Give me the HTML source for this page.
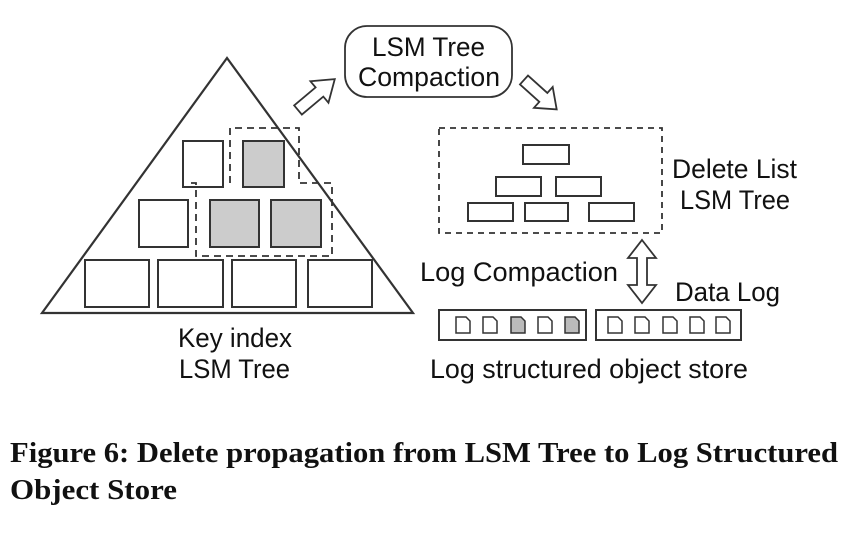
<!DOCTYPE html>
<html><head><meta charset="utf-8"><style>
html,body{margin:0;padding:0;background:#fff;width:868px;height:540px;overflow:hidden}
</style></head><body>
<svg width="868" height="540" viewBox="0 0 868 540" xmlns="http://www.w3.org/2000/svg" font-family="Liberation Sans, sans-serif">
<g fill="none" stroke="#333" stroke-width="2">
<polygon points="227,58 42,313 413,313" stroke-width="2.2"/>
<rect x="183" y="141" width="40" height="46" fill="#fff"/>
<rect x="243" y="141" width="41" height="46" fill="#ccc"/>
<rect x="139" y="200" width="49" height="47" fill="#fff"/>
<rect x="210" y="200" width="49" height="47" fill="#ccc"/>
<rect x="271" y="200" width="50" height="47" fill="#ccc"/>
<rect x="85" y="260" width="64" height="47" fill="#fff"/>
<rect x="158" y="260" width="65" height="47" fill="#fff"/>
<rect x="232" y="260" width="64" height="47" fill="#fff"/>
<rect x="308" y="260" width="64" height="47" fill="#fff"/>
<path d="M230,183 V128 H299 V183 H332 V256 H196 V183 H188" stroke-dasharray="7,5" stroke-width="1.8"/>
<rect x="345" y="26" width="167" height="71" rx="22" stroke-width="1.8"/>
<polygon points="0,-6 28,-6 28,-14 48,0 28,14 28,6 0,6" transform="translate(298,110) rotate(-40)" stroke-width="1.8" fill="#fff"/>
<polygon points="0,-6 26,-6 26,-14 44,0 26,14 26,6 0,6" transform="translate(524,80) rotate(42)" stroke-width="1.8" fill="#fff"/>
<rect x="439" y="128" width="223" height="105" stroke-dasharray="6,5" stroke-width="1.8"/>
<rect x="523" y="145" width="46" height="19"/>
<rect x="496" y="177" width="45" height="19"/>
<rect x="556" y="177" width="45" height="19"/>
<rect x="468" y="203" width="45" height="18"/>
<rect x="525" y="203" width="43" height="18"/>
<rect x="589" y="203" width="45" height="18"/>
<polygon points="642,240 656,258 647,258 647,285 656,285 642,303 628,285 637,285 637,258 628,258" stroke-width="1.8" fill="#fff"/>
<rect x="439" y="310" width="147" height="30"/>
<rect x="596" y="310" width="145" height="30"/>
</g>
<g stroke="#333" stroke-width="1.5">
<path d="M456,317 h10 l4,4 v12 h-14 z" fill="#fff"/>
<path d="M483,317 h10 l4,4 v12 h-14 z" fill="#fff"/>
<path d="M511,317 h10 l4,4 v12 h-14 z" fill="#bbb"/>
<path d="M538,317 h10 l4,4 v12 h-14 z" fill="#fff"/>
<path d="M565,317 h10 l4,4 v12 h-14 z" fill="#bbb"/>
<path d="M608,317 h10 l4,4 v12 h-14 z" fill="#fff"/>
<path d="M635,317 h10 l4,4 v12 h-14 z" fill="#fff"/>
<path d="M663,317 h10 l4,4 v12 h-14 z" fill="#fff"/>
<path d="M690,317 h10 l4,4 v12 h-14 z" fill="#fff"/>
<path d="M716,317 h10 l4,4 v12 h-14 z" fill="#fff"/>
</g>
<g fill="#111" font-size="26.5" lengthAdjust="spacingAndGlyphs">
<text x="372" y="56" textLength="113" lengthAdjust="spacingAndGlyphs">LSM Tree</text>
<text x="358" y="86" textLength="142" lengthAdjust="spacingAndGlyphs">Compaction</text>
<text x="672" y="178" textLength="125" lengthAdjust="spacingAndGlyphs">Delete List</text>
<text x="680" y="209" textLength="110" lengthAdjust="spacingAndGlyphs">LSM Tree</text>
<text x="420" y="281" textLength="198" lengthAdjust="spacingAndGlyphs">Log Compaction</text>
<text x="675" y="301" textLength="105" lengthAdjust="spacingAndGlyphs">Data Log</text>
<text x="430" y="378" textLength="318" lengthAdjust="spacingAndGlyphs">Log structured object store</text>
<text x="178" y="347" textLength="114" lengthAdjust="spacingAndGlyphs">Key index</text>
<text x="179" y="378" textLength="111" lengthAdjust="spacingAndGlyphs">LSM Tree</text>
</g>
<g fill="#111" font-family="Liberation Serif, serif" font-weight="bold" font-size="28">
<text x="10" y="462" textLength="828" lengthAdjust="spacingAndGlyphs">Figure 6: Delete propagation from LSM Tree to Log Structured</text>
<text x="10" y="499" textLength="167" lengthAdjust="spacingAndGlyphs">Object Store</text>
</g>
</svg>
</body></html>
